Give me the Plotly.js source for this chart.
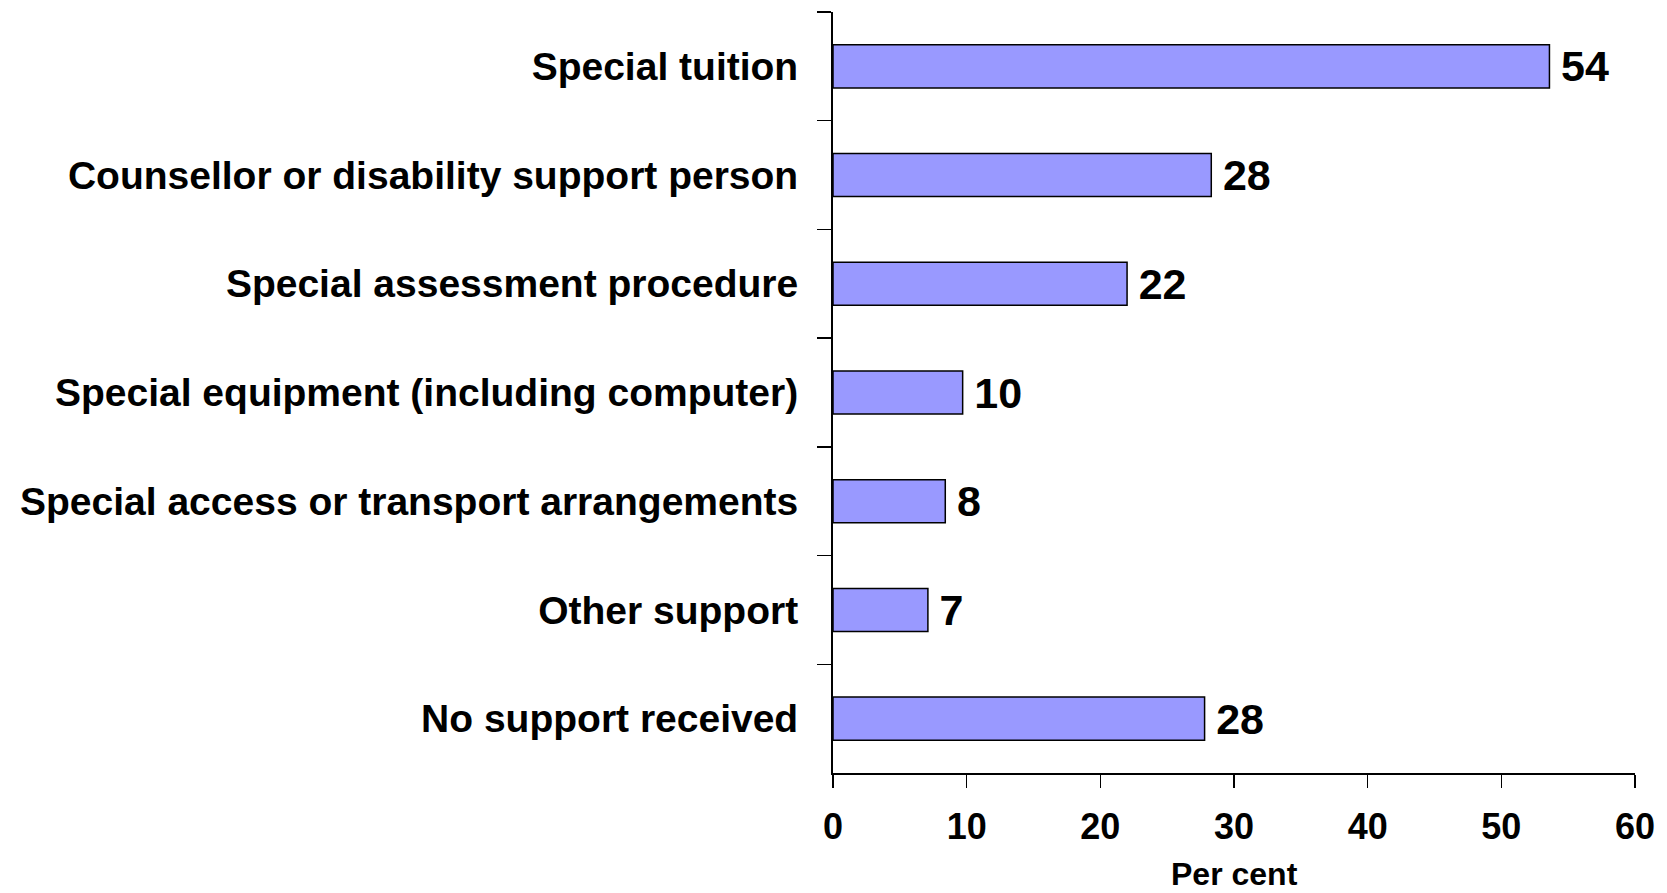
<!DOCTYPE html>
<html>
<head>
<meta charset="utf-8">
<script src="https://cdn.plot.ly/plotly-3.0.1.min.js"></script>
<style>html,body{margin:0;padding:0;background:#fff;}#chart{width:1667px;height:893px;}</style>
</head>
<body>
<div id="chart"></div>
<script>
const categories = [
  "Special tuition",
  "Counsellor or disability support person",
  "Special assessment procedure",
  "Special equipment (including computer)",
  "Special access or transport arrangements",
  "Other support",
  "No support received"
];
const percentValues = [53.6, 28.3, 22.0, 9.7, 8.4, 7.1, 27.8];
const xTickValues = [0, 10, 20, 30, 40, 50, 60];
const xAxisTitle = "Per cent";

const fontFamily = "Arial, 'Liberation Sans', sans-serif";

const trace = {
  type: "bar",
  orientation: "h",
  y: categories,
  x: percentValues,
  marker: { color: "#9999FF", line: { color: "#000000", width: 1.5 } },
  texttemplate: "\u2009%{x:.0f}",
  textposition: "outside",
  constraintext: "none",
  cliponaxis: false,
  textfont: { family: fontFamily, size: 43, color: "#000", weight: "bold" },
  hoverinfo: "none"
};

const layout = {
  width: 1667,
  height: 893,
  margin: { l: 833, r: 32, t: 12, b: 120 },
  paper_bgcolor: "#fff",
  plot_bgcolor: "#fff",
  bargap: 0.604,
  showlegend: false,
  xaxis: {
    range: [0, 60],
    tickvals: xTickValues,
    ticktext: xTickValues.map(String),
    ticks: "outside",
    ticklen: 13,
    tickwidth: 1.5,
    tickcolor: "#000",
    showline: true,
    linecolor: "#000",
    linewidth: 2,
    showgrid: false,
    zeroline: false,
    ticklabelstandoff: 8,
    tickfont: { family: fontFamily, size: 36, color: "#000", weight: "bold" }
  },
  yaxis: {
    type: "category",
    range: [6.5, -0.5],
    tickson: "boundaries",
    ticks: "outside",
    ticklen: 14,
    tickwidth: 1.5,
    tickcolor: "#000",
    showline: true,
    linecolor: "#000",
    linewidth: 2,
    showgrid: false,
    zeroline: false,
    ticklabelstandoff: 25,
    tickfont: { family: fontFamily, size: 39, color: "#000", weight: "bold" }
  },
  annotations: [{
    text: xAxisTitle,
    xref: "paper", yref: "paper",
    x: 0.5, y: -0.133,
    xanchor: "center", yanchor: "middle",
    showarrow: false,
    font: { family: fontFamily, size: 32, color: "#000", weight: "bold" }
  }]
};

Plotly.newPlot("chart", [trace], layout, { staticPlot: true, displayModeBar: false });
</script>
</body>
</html>
